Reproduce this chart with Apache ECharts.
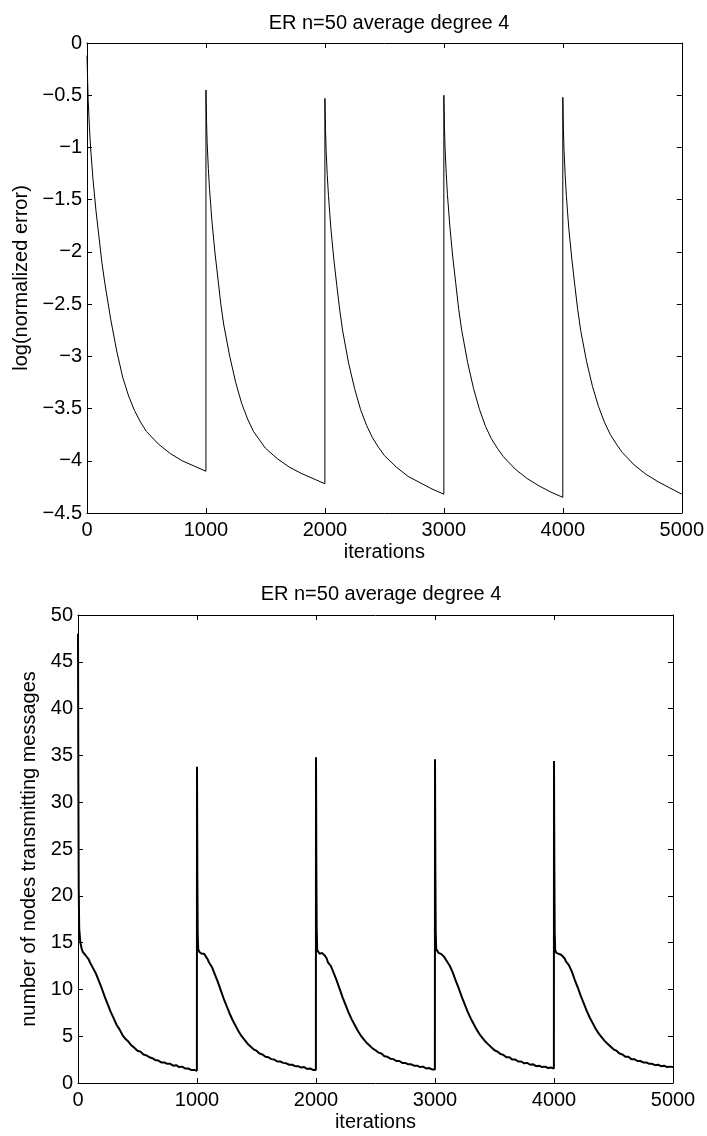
<!DOCTYPE html>
<html>
<head>
<meta charset="utf-8">
<script src="https://cdn.jsdelivr.net/npm/echarts@6/dist/echarts.min.js"></script>
<style>
html,body{margin:0;padding:0;background:#fff;}
#c{width:707px;height:1136px;}
</style>
</head>
<body>
<div id="c"></div>
<script>
// ---------- DATA ----------
const chartTitle = 'ER n=50 average degree 4';
const xTicks = [0, 1000, 2000, 3000, 4000, 5000];
const topYTicks = [0, -0.5, -1, -1.5, -2, -2.5, -3, -3.5, -4, -4.5];
const botYTicks = [0, 5, 10, 15, 20, 25, 30, 35, 40, 45, 50];

// top panel: log(normalized error)
const iterTop = [
  0,5,10,20,30,40,50,75,100,125,150,200,250,300,350,400,450,500,600,700,800,900,1000,
  1000,1005,1010,1020,1030,1040,1050,1075,1100,1125,1150,1200,1250,1300,1350,1400,1450,1500,1600,1700,1800,1900,2000,
  2000,2005,2010,2020,2030,2040,2050,2075,2100,2125,2150,2200,2250,2300,2350,2400,2450,2500,2600,2700,2800,2900,3000,
  3000,3005,3010,3020,3030,3040,3050,3075,3100,3125,3150,3200,3250,3300,3350,3400,3450,3500,3600,3700,3800,3900,4000,
  4000,4005,4010,4020,4030,4040,4050,4075,4100,4125,4150,4200,4250,4300,4350,4400,4450,4500,4600,4700,4800,4900,5000
];
const logErr = [
  -0.12,-0.35,-0.55,-0.8,-1.0,-1.15,-1.3,-1.6,-1.85,-2.1,-2.3,-2.65,-2.95,-3.2,-3.38,-3.52,-3.63,-3.72,-3.84,-3.93,-4.0,-4.05,-4.1,
  -0.45,-0.75,-0.95,-1.2,-1.4,-1.55,-1.7,-2.0,-2.25,-2.5,-2.7,-3.0,-3.25,-3.45,-3.6,-3.72,-3.8,-3.88,-3.98,-4.06,-4.12,-4.17,-4.22,
  -0.53,-0.82,-1.02,-1.27,-1.46,-1.62,-1.77,-2.07,-2.32,-2.56,-2.76,-3.07,-3.31,-3.51,-3.66,-3.78,-3.87,-3.95,-4.06,-4.15,-4.21,-4.27,-4.32,
  -0.5,-0.8,-1.0,-1.25,-1.45,-1.6,-1.75,-2.05,-2.3,-2.55,-2.75,-3.06,-3.31,-3.51,-3.67,-3.79,-3.88,-3.96,-4.08,-4.17,-4.24,-4.3,-4.35,
  -0.52,-0.82,-1.02,-1.27,-1.46,-1.62,-1.77,-2.06,-2.31,-2.55,-2.75,-3.05,-3.29,-3.48,-3.63,-3.75,-3.84,-3.92,-4.04,-4.13,-4.2,-4.26,-4.32
];

// bottom panel: number of nodes transmitting messages
const iterBot = [
  0,3,6,10,20,30,40,50,60,75,90,100,125,150,175,200,225,250,275,300,325,350,375,400,425,450,475,500,525,550,575,600,625,650,675,700,725,750,775,800,825,850,875,900,925,950,975,999,
  1000,1003,1006,1010,1020,1030,1040,1050,1060,1075,1090,1100,1125,1150,1175,1200,1225,1250,1275,1300,1325,1350,1375,1400,1425,1450,1475,1500,1525,1550,1575,1600,1625,1650,1675,1700,1725,1750,1775,1800,1825,1850,1875,1900,1925,1950,1975,1999,
  2000,2003,2006,2010,2020,2030,2040,2050,2060,2075,2090,2100,2125,2150,2175,2200,2225,2250,2275,2300,2325,2350,2375,2400,2425,2450,2475,2500,2525,2550,2575,2600,2625,2650,2675,2700,2725,2750,2775,2800,2825,2850,2875,2900,2925,2950,2975,2999,
  3000,3003,3006,3010,3020,3030,3040,3050,3060,3075,3090,3100,3125,3150,3175,3200,3225,3250,3275,3300,3325,3350,3375,3400,3425,3450,3475,3500,3525,3550,3575,3600,3625,3650,3675,3700,3725,3750,3775,3800,3825,3850,3875,3900,3925,3950,3975,3999,
  4000,4003,4006,4010,4020,4030,4040,4050,4060,4075,4090,4100,4125,4150,4175,4200,4225,4250,4275,4300,4325,4350,4375,4400,4425,4450,4475,4500,4525,4550,4575,4600,4625,4650,4675,4700,4725,4750,4775,4800,4825,4850,4875,4900,4925,4950,4975,5000
];
const nodesTx = [
  48,32,21,16.5,15.0,14.4,14.0,13.9,13.7,13.5,13.2,12.9,12.3,11.7,10.9,10.1,9.2,8.4,7.6,6.9,6.2,5.7,5.1,4.7,4.4,4.0,3.75,3.45,3.35,3.05,2.95,2.75,2.65,2.45,2.4,2.2,2.2,2.05,2.05,1.85,1.9,1.7,1.75,1.55,1.55,1.4,1.4,1.3,
  33.8,22,16,14.3,14.0,14.1,13.8,13.9,13.8,13.5,13.2,12.9,12.4,11.6,10.8,9.9,9.0,8.2,7.4,6.7,6.1,5.5,5.0,4.6,4.2,3.9,3.6,3.45,3.15,3.05,2.8,2.75,2.55,2.5,2.3,2.3,2.15,2.1,1.95,1.95,1.8,1.8,1.65,1.7,1.5,1.55,1.4,1.4,
  34.8,23,16.5,14.2,14.0,13.8,14.0,13.9,13.7,13.6,13.3,12.9,12.5,11.7,10.9,10.0,9.1,8.3,7.5,6.8,6.2,5.6,5.1,4.7,4.3,4.0,3.7,3.5,3.25,3.15,2.85,2.8,2.6,2.55,2.35,2.35,2.15,2.15,2.0,2.0,1.85,1.85,1.7,1.75,1.55,1.6,1.45,1.45,
  34.6,23,16.2,14.3,14.1,13.9,14.0,13.8,13.8,13.5,13.3,13.0,12.5,11.8,10.9,10.1,9.2,8.4,7.6,6.9,6.3,5.7,5.2,4.8,4.4,4.1,3.8,3.5,3.35,3.1,3.0,2.75,2.75,2.5,2.5,2.3,2.3,2.1,2.15,1.95,2.0,1.8,1.85,1.7,1.75,1.6,1.65,1.55,
  34.4,23,16.0,14.2,13.9,14.0,13.8,13.9,13.7,13.6,13.3,13.0,12.6,11.9,11.0,10.2,9.3,8.5,7.7,7.0,6.4,5.8,5.3,4.9,4.5,4.2,3.9,3.6,3.45,3.15,3.05,2.8,2.8,2.55,2.55,2.35,2.35,2.2,2.2,2.05,2.05,1.9,1.95,1.8,1.85,1.7,1.75,1.7
];

// ---------- CHART ----------
const FONT = '"Liberation Sans", Arial, Helvetica, sans-serif';
const fmtNum = v => String(v).replace('-', '\u2212');
const chart = echarts.init(document.getElementById('c'), null, {renderer: 'canvas'});

const axisLine = {show: true, onZero: false, lineStyle: {color: '#000', width: 1}};
const tickIn = {show: true, inside: true, length: 5, lineStyle: {color: '#000', width: 1}};
const lbl = {color: '#000', fontSize: 20, fontFamily: FONT};

function xAx(gi, pos, show, name, gap) {
  return {
    gridIndex: gi, type: 'value', position: pos, min: 0, max: 5000, interval: 1000,
    axisLine: axisLine, axisTick: tickIn, splitLine: {show: false},
    axisLabel: Object.assign({show: show, margin: 7, formatter: fmtNum}, lbl),
    name: name, nameLocation: 'middle', nameGap: gap,
    nameTextStyle: {color: '#000', fontSize: 20, fontFamily: FONT}
  };
}
function yAx(gi, pos, show, min, max, iv, name, gap) {
  return {
    gridIndex: gi, type: 'value', position: pos, min: min, max: max, interval: iv,
    axisLine: axisLine, axisTick: tickIn, splitLine: {show: false},
    axisLabel: Object.assign({show: show, margin: 5, formatter: fmtNum}, lbl),
    name: name, nameLocation: 'middle', nameGap: gap, nameRotate: 90,
    nameTextStyle: {color: '#000', fontSize: 20, fontFamily: FONT}
  };
}

const topData = iterTop.map((x, i) => [x, logErr[i]]);
const botData = iterBot.map((x, i) => [x, nodesTx[i]]);

chart.setOption({
  animation: false,
  backgroundColor: '#fff',
  title: [
    {text: chartTitle, left: 384, top: 8, textAlign: 'center',
     textStyle: {color: '#000', fontSize: 20, fontWeight: 'normal', fontFamily: FONT}},
    {text: chartTitle, left: 376, top: 579, textAlign: 'center',
     textStyle: {color: '#000', fontSize: 20, fontWeight: 'normal', fontFamily: FONT}}
  ],
  grid: [
    {left: 87, top: 43, width: 595, height: 470},
    {left: 78, top: 615, width: 595, height: 468}
  ],
  xAxis: [
    xAx(0, 'bottom', true, 'iterations', 29),
    xAx(0, 'top', false, '', 0),
    xAx(1, 'bottom', true, 'iterations', 29),
    xAx(1, 'top', false, '', 0)
  ],
  yAxis: [
    yAx(0, 'left', true, -4.5, 0, 0.5, 'log(normalized error)', 45),
    yAx(0, 'right', false, -4.5, 0, 0.5, '', 0),
    yAx(1, 'left', true, 0, 50, 5, 'number of nodes transmitting messages', 28),
    yAx(1, 'right', false, 0, 50, 5, '', 0)
  ],
  series: [
    {type: 'line', xAxisIndex: 0, yAxisIndex: 0, data: topData, showSymbol: false,
     lineStyle: {color: '#000', width: 1}, itemStyle: {color: '#000'}},
    {type: 'line', xAxisIndex: 2, yAxisIndex: 2, data: botData, showSymbol: false,
     lineStyle: {color: '#000', width: 2}, itemStyle: {color: '#000'}}
  ]
});
</script>
</body>
</html>
